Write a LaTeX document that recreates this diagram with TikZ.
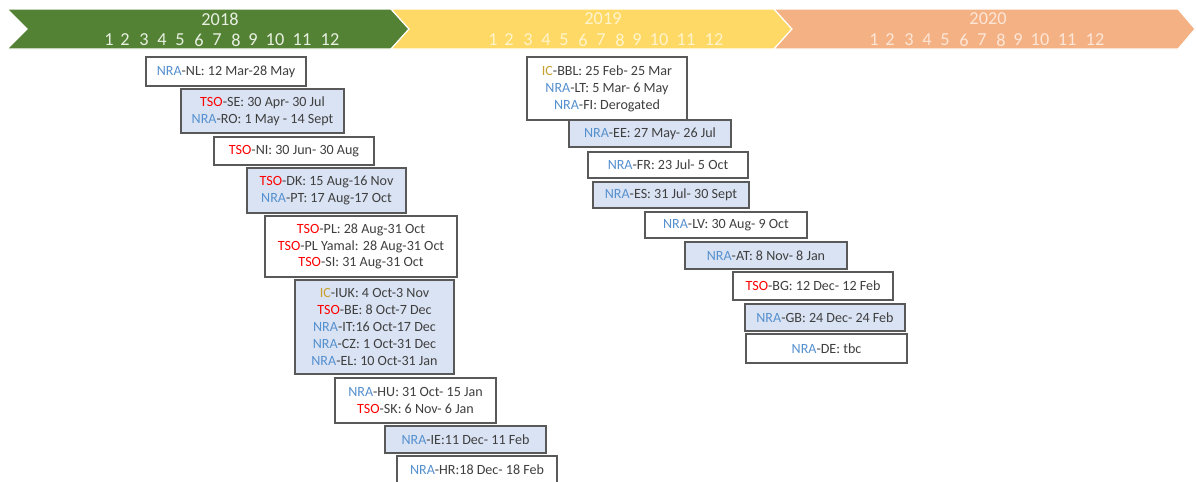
\documentclass[tikz,border=0pt]{standalone}
\usepackage{fontspec}
\setmainfont{Carlito}
\definecolor{bandgreen}{HTML}{548235}
\definecolor{bandyellow}{HTML}{FFD966}
\definecolor{bandorange}{HTML}{F4B183}
\definecolor{greentxt}{HTML}{E8F0E2}
\definecolor{yellowtxt}{HTML}{FFF4CC}
\definecolor{orangetxt}{HTML}{FCE6D8}
\definecolor{boxblue}{HTML}{DAE3F3}
\definecolor{boxgray}{HTML}{595959}
\definecolor{txtgray}{HTML}{3F3F3F}
\definecolor{nrablue}{HTML}{5590CF}
\definecolor{tsored}{HTML}{FF0000}
\definecolor{icgold}{HTML}{C9A030}
\newcommand{\nra}{\textcolor{nrablue}{NRA}}
\newcommand{\tso}{\textcolor{tsored}{TSO}}
\newcommand{\icx}{\textcolor{icgold}{IC}}
\begin{document}
\begin{tikzpicture}[x=0.025cm, y=-0.025cm,
    box/.style={draw=boxgray, line width=1.1pt, fill=white, align=center,
      inner sep=0pt, text=txtgray, font=\fontsize{10}{12}\selectfont},
    bluebox/.style={box, fill=boxblue},
    wh/.style 2 args={minimum width=#1*0.025cm, minimum height=#2*0.025cm},
    band/.style={draw=white, line width=0.8pt},
    bandtxt/.style={font=\fontsize{13}{15}\selectfont}]
  \useasboundingbox (0,0) rectangle (1196,481);

  % Year bands
  \fill[band, fill=bandgreen] (7,9) -- (391,9) -- (409,29) -- (391,49) -- (7,49) -- (27,29) -- cycle;
  \fill[band, fill=bandyellow] (391,9) -- (774,9) -- (792,29) -- (774,49) -- (391,49) -- (409,29) -- cycle;
  \fill[band, fill=bandorange] (774,9) -- (1178,9) -- (1195,29) -- (1178,49) -- (774,49) -- (792,29) -- cycle;
  \node[bandtxt, text=greentxt] (y2018) at (220,19) {2018};
  \node[bandtxt, text=yellowtxt] (y2019) at (603,19) {2019};
  \node[bandtxt, text=orangetxt] (y2020) at (988,19) {2020};

  % Months
  \foreach \m/\dx in {1/0,2/16,3/35,4/53,5/71,6/90,7/108,8/127,9/144,10/166,11/193,12/221} {
    \node[bandtxt, text=greentxt] (ma\m) at (109+\dx,40) {\m};
    \node[bandtxt, text=yellowtxt] (mb\m) at (493+\dx,40) {\m};
    \node[bandtxt, text=orangetxt] (mc\m) at (874+\dx,40) {\m};
  }

  % 2018 consultations
  \node[box, wh={160}{29}] (nl) at (226,71.5) {\nra-NL: 12 Mar-28 May};
  \node[bluebox, wh={163}{44}] (se) at (262.5,111) {\tso-SE: 30 Apr- 30 Jul\\\nra-RO: 1 May - 14 Sept};
  \node[box, wh={160}{28}] (ni) at (294,151) {\tso-NI: 30 Jun- 30 Aug};
  \node[bluebox, wh={159}{45}] (dk) at (326.5,190.5) {\tso-DK: 15 Aug-16 Nov\\\nra-PT: 17 Aug-17 Oct};
  \node[box, wh={192}{61}] (pl) at (361,246.5) {\tso-PL: 28 Aug-31 Oct\\\tso-PL Yamal: 28 Aug-31 Oct\\\tso-SI: 31 Aug-31 Oct};
  \node[bluebox, wh={159}{94}] (iuk) at (374.5,327) {\icx-IUK: 4 Oct-3 Nov\\\tso-BE: 8 Oct-7 Dec\\\nra-IT:16 Oct-17 Dec\\\nra-CZ: 1 Oct-31 Dec\\\nra-EL: 10 Oct-31 Jan};
  \node[box, wh={161}{45}] (hu) at (415.5,400.5) {\nra-HU: 31 Oct- 15 Jan\\\tso-SK: 6 Nov- 6 Jan};
  \node[bluebox, wh={161}{27}] (ie) at (465.5,439.5) {\nra-IE:11 Dec- 11 Feb};
  \node[box, wh={160}{28}] (hr) at (477,470) {\nra-HR:18 Dec- 18 Feb};

  % 2019 consultations
  \node[box, wh={160}{63}] (bbl) at (607,88.5) {\icx-BBL: 25 Feb- 25 Mar\\\nra-LT: 5 Mar- 6 May\\\nra-FI: Derogated};
  \node[bluebox, wh={162}{27}] (ee) at (650,133.5) {\nra-EE: 27 May- 26 Jul};
  \node[box, wh={160}{26}] (fr) at (668,165) {\nra-FR: 23 Jul- 5 Oct};
  \node[bluebox, wh={156}{26}] (es) at (671,195) {\nra-ES: 31 Jul- 30 Sept};
  \node[box, wh={162}{26}] (lv) at (726,225) {\nra-LV: 30 Aug- 9 Oct};
  \node[bluebox, wh={162}{27}] (at) at (766,255.5) {\nra-AT: 8 Nov- 8 Jan};
  \node[box, wh={160}{28}] (bg) at (813,286) {\tso-BG: 12 Dec- 12 Feb};
  \node[bluebox, wh={160}{27}] (gb) at (825,317.5) {\nra-GB: 24 Dec- 24 Feb};
  \node[box, wh={161}{29}] (de) at (826.5,348.5) {\nra-DE: tbc};
\end{tikzpicture}
\end{document}
